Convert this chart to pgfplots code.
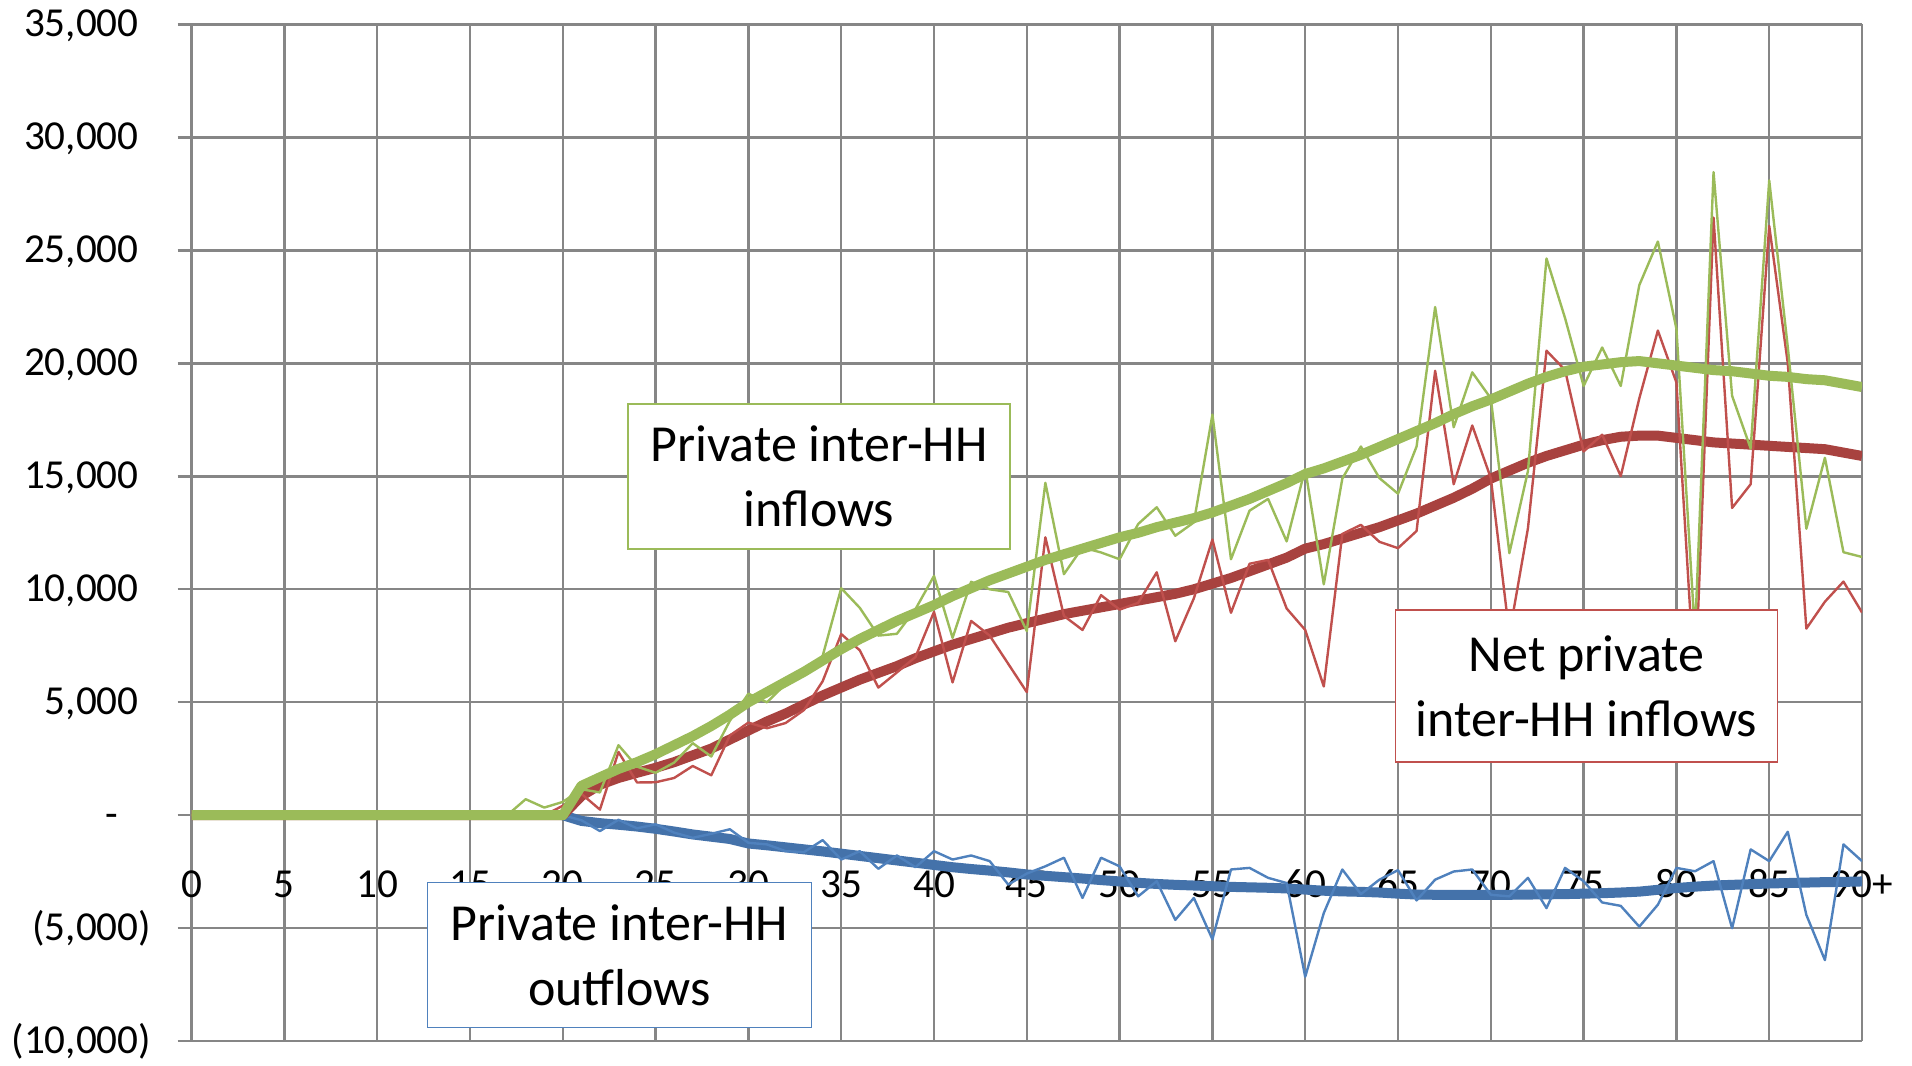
\documentclass[border=0pt]{standalone}
\usepackage{pgfplots}
\pgfplotsset{compat=1.18}
\usepackage{fontspec}
\setmainfont{Carlito}

\definecolor{grn}{HTML}{9BBB59}
\definecolor{rd}{HTML}{C0504D}
\definecolor{rdk}{HTML}{A8423F}
\definecolor{bl}{HTML}{4F81BD}
\definecolor{blk}{HTML}{4472AA}
\definecolor{gridc}{HTML}{868686}

\newcommand{\ticksize}{\fontsize{10.3}{12}\selectfont}
\newcommand{\boxsize}{\fontsize{13}{16.2}\selectfont}

% age, inflows, net inflows, outflows (single-year values)
\pgfplotstableread{
age gin net out
0 0 0 nan
17 0 0 nan
18 710 0 nan
19 340 0 nan
20 590 420 0
21 1150 950 -220
22 1010 250 -700
23 3100 2800 -200
24 2150 1450 -580
25 1880 1460 -400
26 2330 1650 -770
27 3190 2180 -1000
28 2600 1770 -820
29 4180 3530 -620
30 5380 4100 -1220
31 5000 3850 -1290
32 5800 4080 -1590
33 6290 4660 -1630
34 7050 5930 -1100
35 10050 8020 -1960
36 9180 7300 -1590
37 7950 5650 -2370
38 8030 6320 -1780
39 9120 7000 -2300
40 10590 9000 -1590
41 7850 5880 -1960
42 10330 8600 -1780
43 10000 7950 -2030
44 9880 6700 -3070
45 8150 5450 -2580
46 14710 12300 -2260
47 10670 8820 -1880
48 11850 8200 -3660
49 11630 9740 -1880
50 11330 9100 -2260
51 12890 9400 -3590
52 13630 10750 -2920
53 12370 7700 -4630
54 12960 9600 -3660
55 17730 12200 -5490
56 11330 8960 -2400
57 13480 11130 -2330
58 14000 11300 -2770
59 12120 9150 -3000
60 15330 8200 -7150
61 10220 5700 -4330
62 14900 12450 -2400
63 16320 12850 -3490
64 14920 12100 -2850
65 14230 11820 -2430
66 16320 12580 -3770
67 22490 19670 -2850
68 17170 14650 -2490
69 19600 17250 -2400
70 18450 14920 -3520
71 11600 8000 -3590
72 15230 12700 -2770
73 24640 20560 -4110
74 22000 19700 -2330
75 19000 16100 -2920
76 20700 16840 -3860
77 19000 15010 -4010
78 23460 18450 -4930
79 25390 21450 -3960
80 21530 19150 -2330
81 8000 5500 -2480
82 28460 26450 -2030
83 18560 13600 -5000
84 16230 14650 -1510
85 28100 26080 -2030
86 20720 20000 -730
87 12680 8260 -4410
88 15820 9450 -6410
89 11640 10340 -1290
90 11430 8970 -2030
}\rawdata

% smoothed profiles
\pgfplotstableread{
age gin net out
0 0 0 nan
20 0 0 0
21 1300 850 -250
22 1680 1350 -350
23 2050 1650 -420
24 2350 1880 -500
25 2700 2100 -600
26 3100 2350 -720
27 3500 2650 -850
28 3950 2950 -950
29 4450 3350 -1050
30 5000 3750 -1250
31 5450 4150 -1330
32 5900 4500 -1420
33 6350 4900 -1510
34 6850 5300 -1600
35 7350 5650 -1700
36 7800 6000 -1800
37 8200 6300 -1900
38 8600 6600 -2000
39 8950 6950 -2100
40 9300 7250 -2200
41 9700 7550 -2300
42 10050 7800 -2380
43 10400 8050 -2450
44 10700 8300 -2530
45 11000 8500 -2620
46 11300 8700 -2680
47 11550 8900 -2740
48 11800 9050 -2800
49 12050 9200 -2870
50 12300 9350 -2930
51 12500 9500 -2990
52 12750 9650 -3040
53 12950 9800 -3080
54 13150 10000 -3110
55 13400 10250 -3140
56 13700 10500 -3170
57 14000 10800 -3190
58 14350 11100 -3210
59 14700 11400 -3240
60 15100 11800 -3290
61 15350 12000 -3340
62 15650 12250 -3370
63 15950 12500 -3390
64 16300 12750 -3420
65 16650 13050 -3470
66 17000 13350 -3510
67 17350 13700 -3520
68 17750 14050 -3520
69 18100 14450 -3520
70 18400 14900 -3520
71 18750 15250 -3520
72 19100 15600 -3510
73 19400 15900 -3500
74 19650 16150 -3490
75 19850 16400 -3470
76 19950 16600 -3450
77 20050 16750 -3420
78 20100 16800 -3380
79 20000 16800 -3300
80 19900 16700 -3220
81 19800 16600 -3160
82 19700 16500 -3110
83 19650 16450 -3080
84 19550 16400 -3050
85 19450 16350 -3020
86 19400 16300 -3000
87 19300 16250 -2980
88 19250 16200 -2960
89 19100 16050 -2950
90 18950 15900 -2930
}\smooth

\begin{document}
\begin{tikzpicture}
\begin{axis}[
    scale only axis,
    width=417.6pt, height=254.2pt,
    xmin=0, xmax=90,
    ymin=-10000, ymax=35000,
    xtick={0,5,10,15,20,25,30,35,40,45,50,55,60,65,70,75,80,85,90},
    xticklabels={0,5,10,15,20,25,30,35,40,45,50,55,60,65,70,75,80,85,90+},
    ytick={-10000,-5000,0,5000,10000,15000,20000,25000,30000,35000},
    yticklabels={{(10,000)},{(5,000)},{-\phantom{0)}},{5,000\phantom{)}},{10,000\phantom{)}},{15,000\phantom{)}},{20,000\phantom{)}},{25,000\phantom{)}},{30,000\phantom{)}},{35,000\phantom{)}}},
    grid=major,
    grid style={gridc, line width=0.6pt},
    axis line style={draw=none},
    x tick style={draw=none},
    y tick style={gridc, line width=0.6pt},
    ytick pos=left,
    tick align=outside,
    major tick length=3.5pt,
    xticklabel style={font=\ticksize, anchor=center, yshift=42.8pt},
    yticklabel style={font=\ticksize, anchor=east, inner sep=0pt, xshift=-6.4pt},
    unbounded coords=discard,
    every axis plot/.append style={line join=round},
]
\addplot[blk, line width=2.5pt] table[x=age, y=out] {\smooth};
\addplot[bl, line width=0.6pt] table[x=age, y=out] {\rawdata};
\addplot[rdk, line width=2.5pt] table[x=age, y=net] {\smooth};
\addplot[rd, line width=0.6pt] table[x=age, y=net] {\rawdata};
\addplot[grn, line width=0.6pt] table[x=age, y=gin] {\rawdata};
\addplot[grn, line width=2.5pt] table[x=age, y=gin] {\smooth};

\node[draw=grn, fill=white, line width=0.4pt, minimum width=95.5pt, minimum height=36.3pt,
      inner sep=0pt, align=center, font=\boxsize] at (axis cs:33.8,15000) {Private inter-HH\\inflows};
\node[draw=rd, fill=white, line width=0.4pt, minimum width=95.5pt, minimum height=38pt,
      inner sep=0pt, align=center, font=\boxsize] at (axis cs:75.16,5715) {Net private\\inter-HH inflows};
\node[draw=bl, fill=white, line width=0.4pt, minimum width=96pt, minimum height=36.3pt,
      inner sep=0pt, align=center, font=\boxsize] at (axis cs:23.06,-6185) {Private inter-HH\\outflows};

\coordinate (ll) at (rel axis cs:0,0);
\coordinate (ur) at (rel axis cs:1,1);
\end{axis}
\pgfresetboundingbox
\path[use as bounding box] ([shift={(-47.9pt,-6pt)}]ll) rectangle ([shift={(12.5pt,6.1pt)}]ur);
\end{tikzpicture}
\end{document}
